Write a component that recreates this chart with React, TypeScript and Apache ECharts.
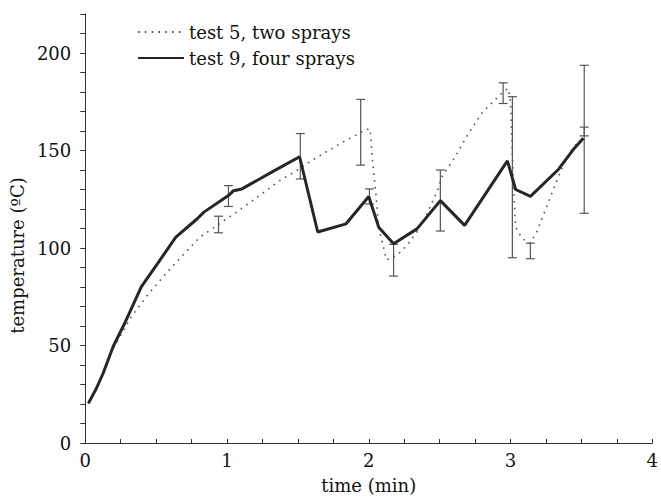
import React, { useEffect, useRef } from "react";
import * as echarts from "echarts";

// test 5, two sprays (dotted)
const test5Time = [0.022, 0.08, 0.2, 0.232, 0.325, 0.44, 0.58, 0.72, 0.81, 0.93, 1.116, 1.37, 1.51, 1.594, 1.79, 1.93, 1.98, 2.01, 2.024, 2.05, 2.07, 2.125, 2.2, 2.27, 2.34, 2.41, 2.49, 2.513, 2.606, 2.7, 2.8, 2.91, 2.955, 2.983, 3.0, 3.01, 3.02, 3.036, 3.083, 3.14, 3.19, 3.28, 3.374, 3.44, 3.514];
const test5Temp = [20.3, 28.5, 49, 52.9, 64.8, 75.9, 87.8, 98.8, 105.6, 111.6, 120.9, 134.5, 140.5, 144.7, 153.2, 158.7, 160.9, 160.9, 146.4, 127.7, 110.7, 93.9, 96.3, 101.4, 108.2, 117.5, 130.3, 136.2, 146.4, 158.3, 169.4, 177.4, 180.5, 181.8, 175.3, 155, 132.8, 110.7, 104.7, 102.5, 109, 126, 143, 151.5, 156.6];

// test 9, four sprays (solid)
const test9Time = [0.022, 0.08, 0.127, 0.197, 0.278, 0.395, 0.51, 0.639, 0.79, 0.837, 1.01, 1.046, 1.105, 1.325, 1.512, 1.64, 1.84, 2.0, 2.07, 2.175, 2.34, 2.505, 2.676, 2.978, 3.036, 3.141, 3.339, 3.444, 3.514];
const test9Temp = [20.3, 28.2, 35.9, 49.5, 61.4, 80.1, 92, 105.6, 115, 118.4, 126.9, 129.4, 130.3, 139.3, 146.8, 108.2, 112.4, 126.4, 110.7, 102.2, 109.8, 124.3, 111.6, 144.7, 130, 126.5, 140.4, 150.6, 156.3];

// error bars
const errTime = [0.94, 1.01, 1.517, 1.943, 2.005, 2.175, 2.505, 2.948, 3.013, 3.14, 3.52, 3.52];
const errLow = [107.8, 121.3, 135.4, 142.5, 122.6, 85.6, 108.7, 174.1, 95, 94.5, 117.8, 157.5];
const errHigh = [116.3, 132, 158.7, 176.2, 130.3, 101.9, 140, 184.7, 177.6, 102.5, 193.7, 162];

const FONT = "DejaVu Serif";

export default function App() {
  const ref = useRef<HTMLDivElement>(null);
  useEffect(() => {
    if (!ref.current) return;
    const chart = echarts.init(ref.current, undefined, { renderer: "svg" });
    const errData = errTime.map((t, i) => [t, errLow[i], errHigh[i]]);
    chart.setOption({
      animation: false,
      backgroundColor: "#ffffff",
      textStyle: { fontFamily: FONT, color: "#111" },
      grid: { left: 83, right: 4.5, top: 14, bottom: 51.5 },
      legend: {
        orient: "vertical",
        left: 137,
        top: 23,
        padding: 0,
        itemGap: 8,
        itemWidth: 46,
        itemHeight: 14,
        itemStyle: { opacity: 0 },
        data: ["test 5, two sprays", "test 9, four sprays"],
        textStyle: { fontFamily: FONT, fontSize: 18, color: "#111" },
      },
      xAxis: {
        type: "value",
        min: 0,
        max: 4,
        interval: 0.25,
        name: "time (min)",
        nameLocation: "middle",
        nameGap: 33,
        nameTextStyle: { fontFamily: FONT, fontSize: 18, color: "#111" },
        axisLine: { show: true, lineStyle: { color: "#333", width: 1 } },
        axisTick: { show: true, inside: true, length: 4, lineStyle: { color: "#333" } },
        axisLabel: {
          fontFamily: FONT,
          fontSize: 18,
          color: "#111",
          margin: 8,
          formatter: (v: number) => (Math.abs(v - Math.round(v)) < 1e-9 ? String(Math.round(v)) : ""),
        },
        splitLine: { show: false },
      },
      yAxis: {
        type: "value",
        min: 0,
        max: 220,
        interval: 10,
        name: "temperature (ºC)",
        nameLocation: "middle",
        nameGap: 52,
        nameTextStyle: { fontFamily: FONT, fontSize: 18, color: "#111", padding: [0, 54, 0, 0] },
        axisLine: { show: true, lineStyle: { color: "#333", width: 1 } },
        axisTick: { show: true, inside: false, length: 5, lineStyle: { color: "#333" } },
        axisLabel: {
          fontFamily: FONT,
          fontSize: 18,
          color: "#111",
          margin: 14,
          formatter: (v: number) => (v % 50 === 0 ? String(v) : ""),
        },
        splitLine: { show: false },
      },
      series: [
        {
          type: "custom",
          name: "error",
          data: errData,
          z: 1,
          renderItem: (params: any, api: any) => {
            const x = api.value(0);
            const lo = api.coord([x, api.value(1)]);
            const hi = api.coord([x, api.value(2)]);
            const w = 4.5;
            const style = { stroke: "#555", lineWidth: 1.2 };
            return {
              type: "group",
              children: [
                { type: "line", shape: { x1: lo[0], y1: lo[1], x2: hi[0], y2: hi[1] }, style },
                { type: "line", shape: { x1: lo[0] - w, y1: lo[1], x2: lo[0] + w, y2: lo[1] }, style },
                { type: "line", shape: { x1: hi[0] - w, y1: hi[1], x2: hi[0] + w, y2: hi[1] }, style },
              ],
            };
          },
        },
        {
          type: "line",
          name: "test 5, two sprays",
          data: test5Time.map((t, i) => [t, test5Temp[i]]),
          symbol: "none",
          z: 2,
          lineStyle: { color: "#555", width: 1.6, type: [1.6, 5.2], cap: "butt" },
          itemStyle: { color: "#555" },
        },
        {
          type: "line",
          name: "test 9, four sprays",
          data: test9Time.map((t, i) => [t, test9Temp[i]]),
          symbol: "none",
          z: 3,
          lineStyle: { color: "#262626", width: 3 },
          itemStyle: { color: "#262626" },
        },
      ],
    });
    return () => chart.dispose();
  }, []);
  return <div ref={ref} style={{ width: 661, height: 499, position: "absolute", left: 0, top: 0 }} />;
}
